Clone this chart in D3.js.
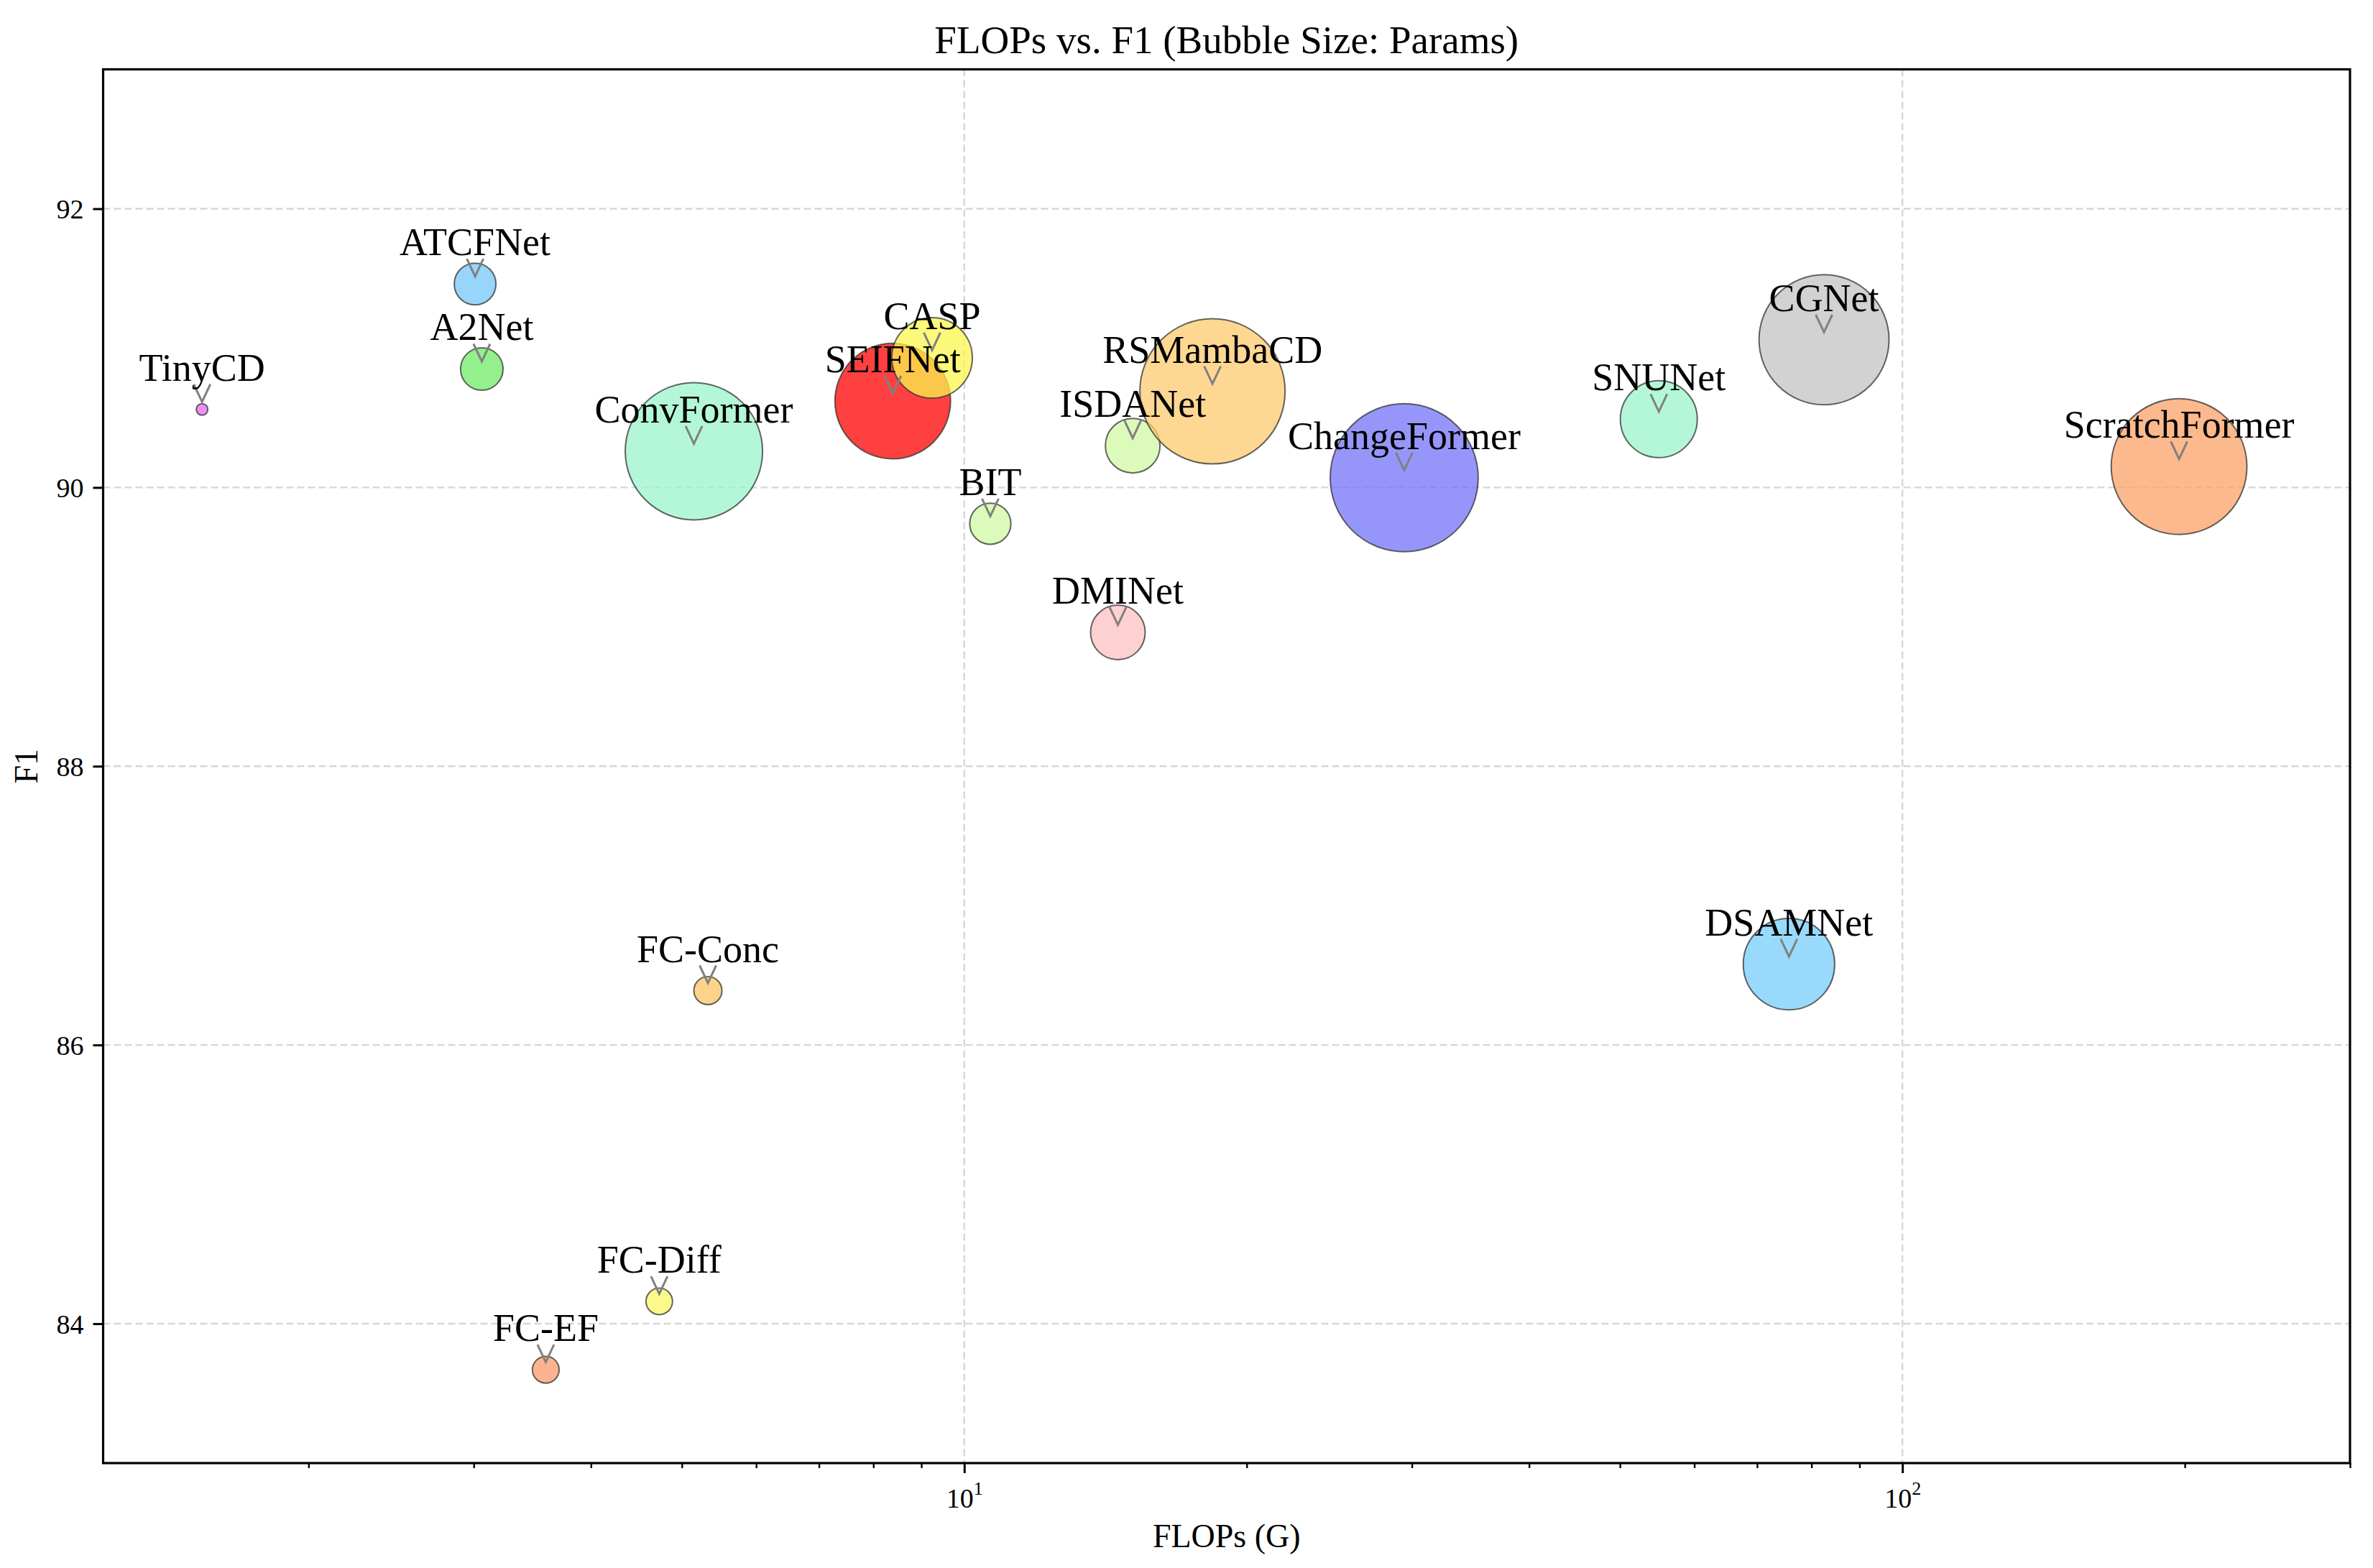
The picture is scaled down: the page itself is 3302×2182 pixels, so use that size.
<!DOCTYPE html>
<html>
<head>
<meta charset="utf-8">
<script src="https://cdn.jsdelivr.net/npm/d3@7"></script>
<style>
	body { margin: 0; background: #ffffff; }
	svg text { font-family: "Liberation Serif", "Times New Roman", serif; fill: #000; }
</style>
</head>
<body>
<div id="chart"></div>
<script>
'use strict'
// values
var models = ["TinyCD", "ATCFNet", "A2Net", "ConvFormer", "SEIFNet", "CASP", "BIT", "ISDANet", "DMINet",
			  "RSMambaCD", "ChangeFormer", "SNUNet", "CGNet", "ScratchFormer", "DSAMNet", "FC-Conc", "FC-Diff", "FC-EF"];
var flops  = [1.54, 3.01, 3.06, 5.15, 8.39, 9.24, 10.66, 15.12, 14.58, 18.39, 29.44, 55.0, 82.5, 197.2, 75.7, 5.33, 4.73, 3.58];
var f1     = [90.56, 91.46, 90.85, 90.26, 90.62, 90.93, 89.74, 90.30, 88.96, 90.69, 90.07, 90.49, 91.06, 90.15, 86.58, 86.39, 84.16, 83.67];
var params = [0.28, 3.64, 3.78, 39.5, 28.0, 13.6, 3.55, 6.25, 6.24, 44.2, 45.9, 12.4, 35.4, 38.6, 17.5, 1.65, 1.47, 1.50];
var colors = ["#ec69eb", "#74c7fa", "#6feb67", "#9bf4cb", "#ff0000", "#fbf64e", "#d0f8a2", "#d0f8a2", "#fcc0c3",
			  "#fecb6f", "#7373f8", "#9bf4cb", "#c3c3c3", "#fca268", "#77cefb", "#fcc464", "#fbf866", "#fa9b6a"];
var yTicks = [84, 86, 88, 90, 92];
var xMajor = [10, 100];

var W = 3302, H = 2182;
var margin = {top: 96.5, right: 32, bottom: 146, left: 143.5};
var fontFam = '"Liberation Serif", "Times New Roman", serif';

var svg = d3.select("#chart").append("svg")
			.attr("width", W)
			.attr("height", H)
			.attr("viewBox", "0 0 " + W + " " + H);

svg.append("rect").attr("width", W).attr("height", H).attr("fill", "#fff");

var x = d3.scaleLog().domain([1.208, 300]).range([margin.left, W - margin.right]);
var y = d3.scaleLinear().domain([83, 93]).range([H - margin.bottom, margin.top]);
var r = d3.scaleSqrt().domain([0, 50]).range([0, 15.2 * Math.sqrt(50)]);

var data = models.map(function(m, i){
	return {name: m, flops: flops[i], f1: f1[i], params: params[i], color: colors[i]};
});

// grid
var grid = svg.append("g").attr("class", "grid")
			.attr("stroke", "#d6d6d6")
			.attr("stroke-width", 2.4)
			.attr("stroke-dasharray", "10,5");
grid.selectAll(".gy").data(yTicks).enter().append("line")
	.attr("x1", margin.left).attr("x2", W - margin.right)
	.attr("y1", function(d){ return y(d); })
	.attr("y2", function(d){ return y(d); });
grid.selectAll(".gx").data(xMajor).enter().append("line")
	.attr("y1", margin.top).attr("y2", H - margin.bottom)
	.attr("x1", function(d){ return x(d); })
	.attr("x2", function(d){ return x(d); });

// bubbles
svg.append("g").attr("class", "bubbles")
	.selectAll("circle")
	.data(data)
	.enter().append("circle")
	.attr("cx", function(d){ return x(d.flops); })
	.attr("cy", function(d){ return y(d.f1); })
	.attr("r", function(d){ return r(d.params); })
	.attr("fill", function(d){ return d.color; })
	.attr("fill-opacity", 0.75)
	.attr("stroke", "#333")
	.attr("stroke-opacity", 0.75)
	.attr("stroke-width", 2);

// annotations: label + little arrow head
var ann = svg.append("g").attr("class", "labels");
ann.selectAll("path")
	.data(data)
	.enter().append("path")
	.attr("d", function(d){
		var cx = x(d.flops), cy = y(d.f1);
		return "M" + (cx - 11.5) + "," + (cy - 35) + "L" + cx + "," + (cy - 10.5) + "L" + (cx + 11.5) + "," + (cy - 35);
	})
	.attr("fill", "none")
	.attr("stroke", "#808080")
	.attr("stroke-width", 3);
ann.selectAll("text")
	.data(data)
	.enter().append("text")
	.attr("x", function(d){ return x(d.flops); })
	.attr("y", function(d){ return y(d.f1) - 40; })
	.attr("text-anchor", "middle")
	.style("font-size", "54px")
	.text(function(d){ return d.name; });

// y axis
var yAxis = svg.append("g")
			.attr("transform", "translate(" + margin.left + ",0)")
			.call(d3.axisLeft(y).tickValues(yTicks).tickSize(14).tickPadding(13));
yAxis.attr("font-family", null);
yAxis.select(".domain").remove();
yAxis.selectAll(".tick line").attr("stroke", "#000").attr("stroke-width", 3);
yAxis.selectAll(".tick text")
	.style("font-family", fontFam)
	.style("font-size", "38px")
	.attr("dy", "0.35em");

// x axis: minor then major ticks
var minor = x.ticks().filter(function(t){ return xMajor.indexOf(t) < 0; });
var xMinor = svg.append("g")
			.attr("transform", "translate(0," + (H - margin.bottom) + ")")
			.call(d3.axisBottom(x).tickValues(minor).tickSize(7).tickFormat(""));
xMinor.select(".domain").remove();
xMinor.selectAll(".tick line").attr("stroke", "#000").attr("stroke-width", 2.4);

var xAxis = svg.append("g")
			.attr("transform", "translate(0," + (H - margin.bottom) + ")")
			.call(d3.axisBottom(x).tickValues(xMajor).tickSize(14).tickFormat(""));
xAxis.attr("font-family", null);
xAxis.select(".domain").remove();
xAxis.selectAll(".tick line").attr("stroke", "#000").attr("stroke-width", 3);
xAxis.selectAll(".tick").each(function(d){
	var t = d3.select(this).append("text")
				.attr("y", 62)
				.attr("text-anchor", "middle")
				.style("font-family", fontFam)
				.style("font-size", "38px");
	t.append("tspan").text("10");
	t.append("tspan").attr("dy", -18).style("font-size", "26px").text(Math.round(Math.log10(d)));
});

// frame
svg.append("rect")
	.attr("x", margin.left).attr("y", margin.top)
	.attr("width", W - margin.right - margin.left)
	.attr("height", H - margin.bottom - margin.top)
	.attr("fill", "none")
	.attr("stroke", "#000")
	.attr("stroke-width", 3.2);

// titles
var midX = (margin.left + W - margin.right) / 2;
svg.append("text")
	.attr("x", midX).attr("y", 74)
	.attr("text-anchor", "middle")
	.style("font-size", "55px")
	.text("FLOPs vs. F1 (Bubble Size: Params)");
svg.append("text")
	.attr("x", midX).attr("y", 2153)
	.attr("text-anchor", "middle")
	.style("font-size", "46px")
	.text("FLOPs (G)");
svg.append("text")
	.attr("transform", "translate(52," + ((margin.top + H - margin.bottom) / 2) + ") rotate(-90)")
	.attr("text-anchor", "middle")
	.style("font-size", "46px")
	.text("F1");
</script>
</body>
</html>
